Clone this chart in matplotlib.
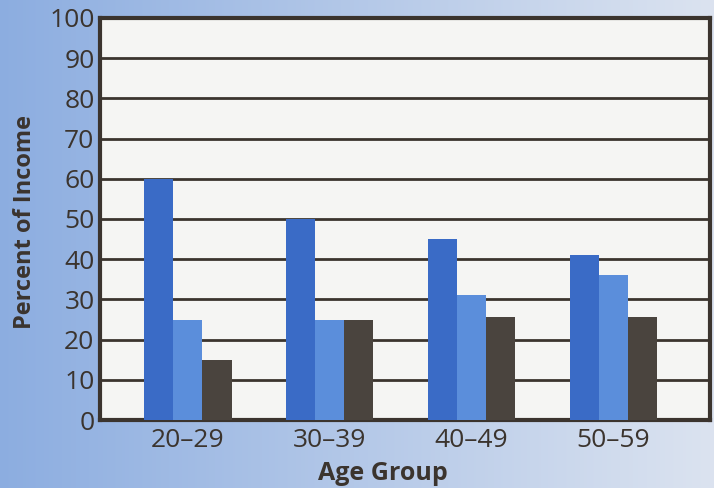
import numpy as np
import matplotlib.pyplot as plt

# data
age_groups = ["20\u201329", "30\u201339", "40\u201349", "50\u201359"]
series_a = [60, 50, 45, 41]
series_b = [25, 25, 31, 36]
series_c = [15, 25, 25.5, 25.5]
y_ticks = list(range(0, 101, 10))

plt.rcParams['font.family'] = ['Open Sans', 'DejaVu Sans']
text_col = "#3b342e"

fig = plt.figure(figsize=(7.14, 4.88), dpi=100)

# paper-blue background, stronger on the left
bg = fig.add_axes([0, 0, 1, 1])
grad = np.linspace(0, 1, 256)
left = np.array([0.55, 0.68, 0.88])
right = np.array([0.86, 0.89, 0.94])
img = left[None, :] * (1 - grad[:, None]) + right[None, :] * grad[:, None]
bg.imshow(img[None, :, :], aspect="auto", extent=[0, 1, 0, 1])
bg.axis("off")

ax = fig.add_axes([100 / 714, 68 / 488, 610 / 714, 402 / 488])
ax.set_facecolor("#f5f5f3")

x = np.arange(len(age_groups))
w = 0.205
ax.bar(x - w, series_a, w, color="#3a6bc6", zorder=3)
ax.bar(x, series_b, w, color="#5b8edb", zorder=3)
ax.bar(x + w, series_c, w, color="#4a443e", zorder=3)

ax.set_xlim(-0.62, 3.68)
ax.set_ylim(0, 100)
ax.set_yticks(y_ticks)
ax.set_xticks(x)
ax.set_xticklabels(age_groups)
ax.tick_params(length=0, labelsize=19, colors=text_col, pad=4)
ax.tick_params(axis="x", pad=6)
for lab in ax.get_xticklabels() + ax.get_yticklabels():
    lab.set_fontweight("medium")
ax.grid(axis="y", color="#3b342e", linewidth=2, zorder=1)
for s in ax.spines.values():
    s.set_color("#3b342e")
    s.set_linewidth(3)

fig.text(25 / 714, 1 - 222 / 488, "Percent of Income", rotation=90,
         ha="center", va="center", fontsize=17, fontweight="bold", color=text_col)
fig.text(383 / 714, 2 / 488, "Age Group", ha="center", va="bottom",
         fontsize=18, fontweight="bold", color=text_col)

fig.savefig("out.png", dpi=100)
